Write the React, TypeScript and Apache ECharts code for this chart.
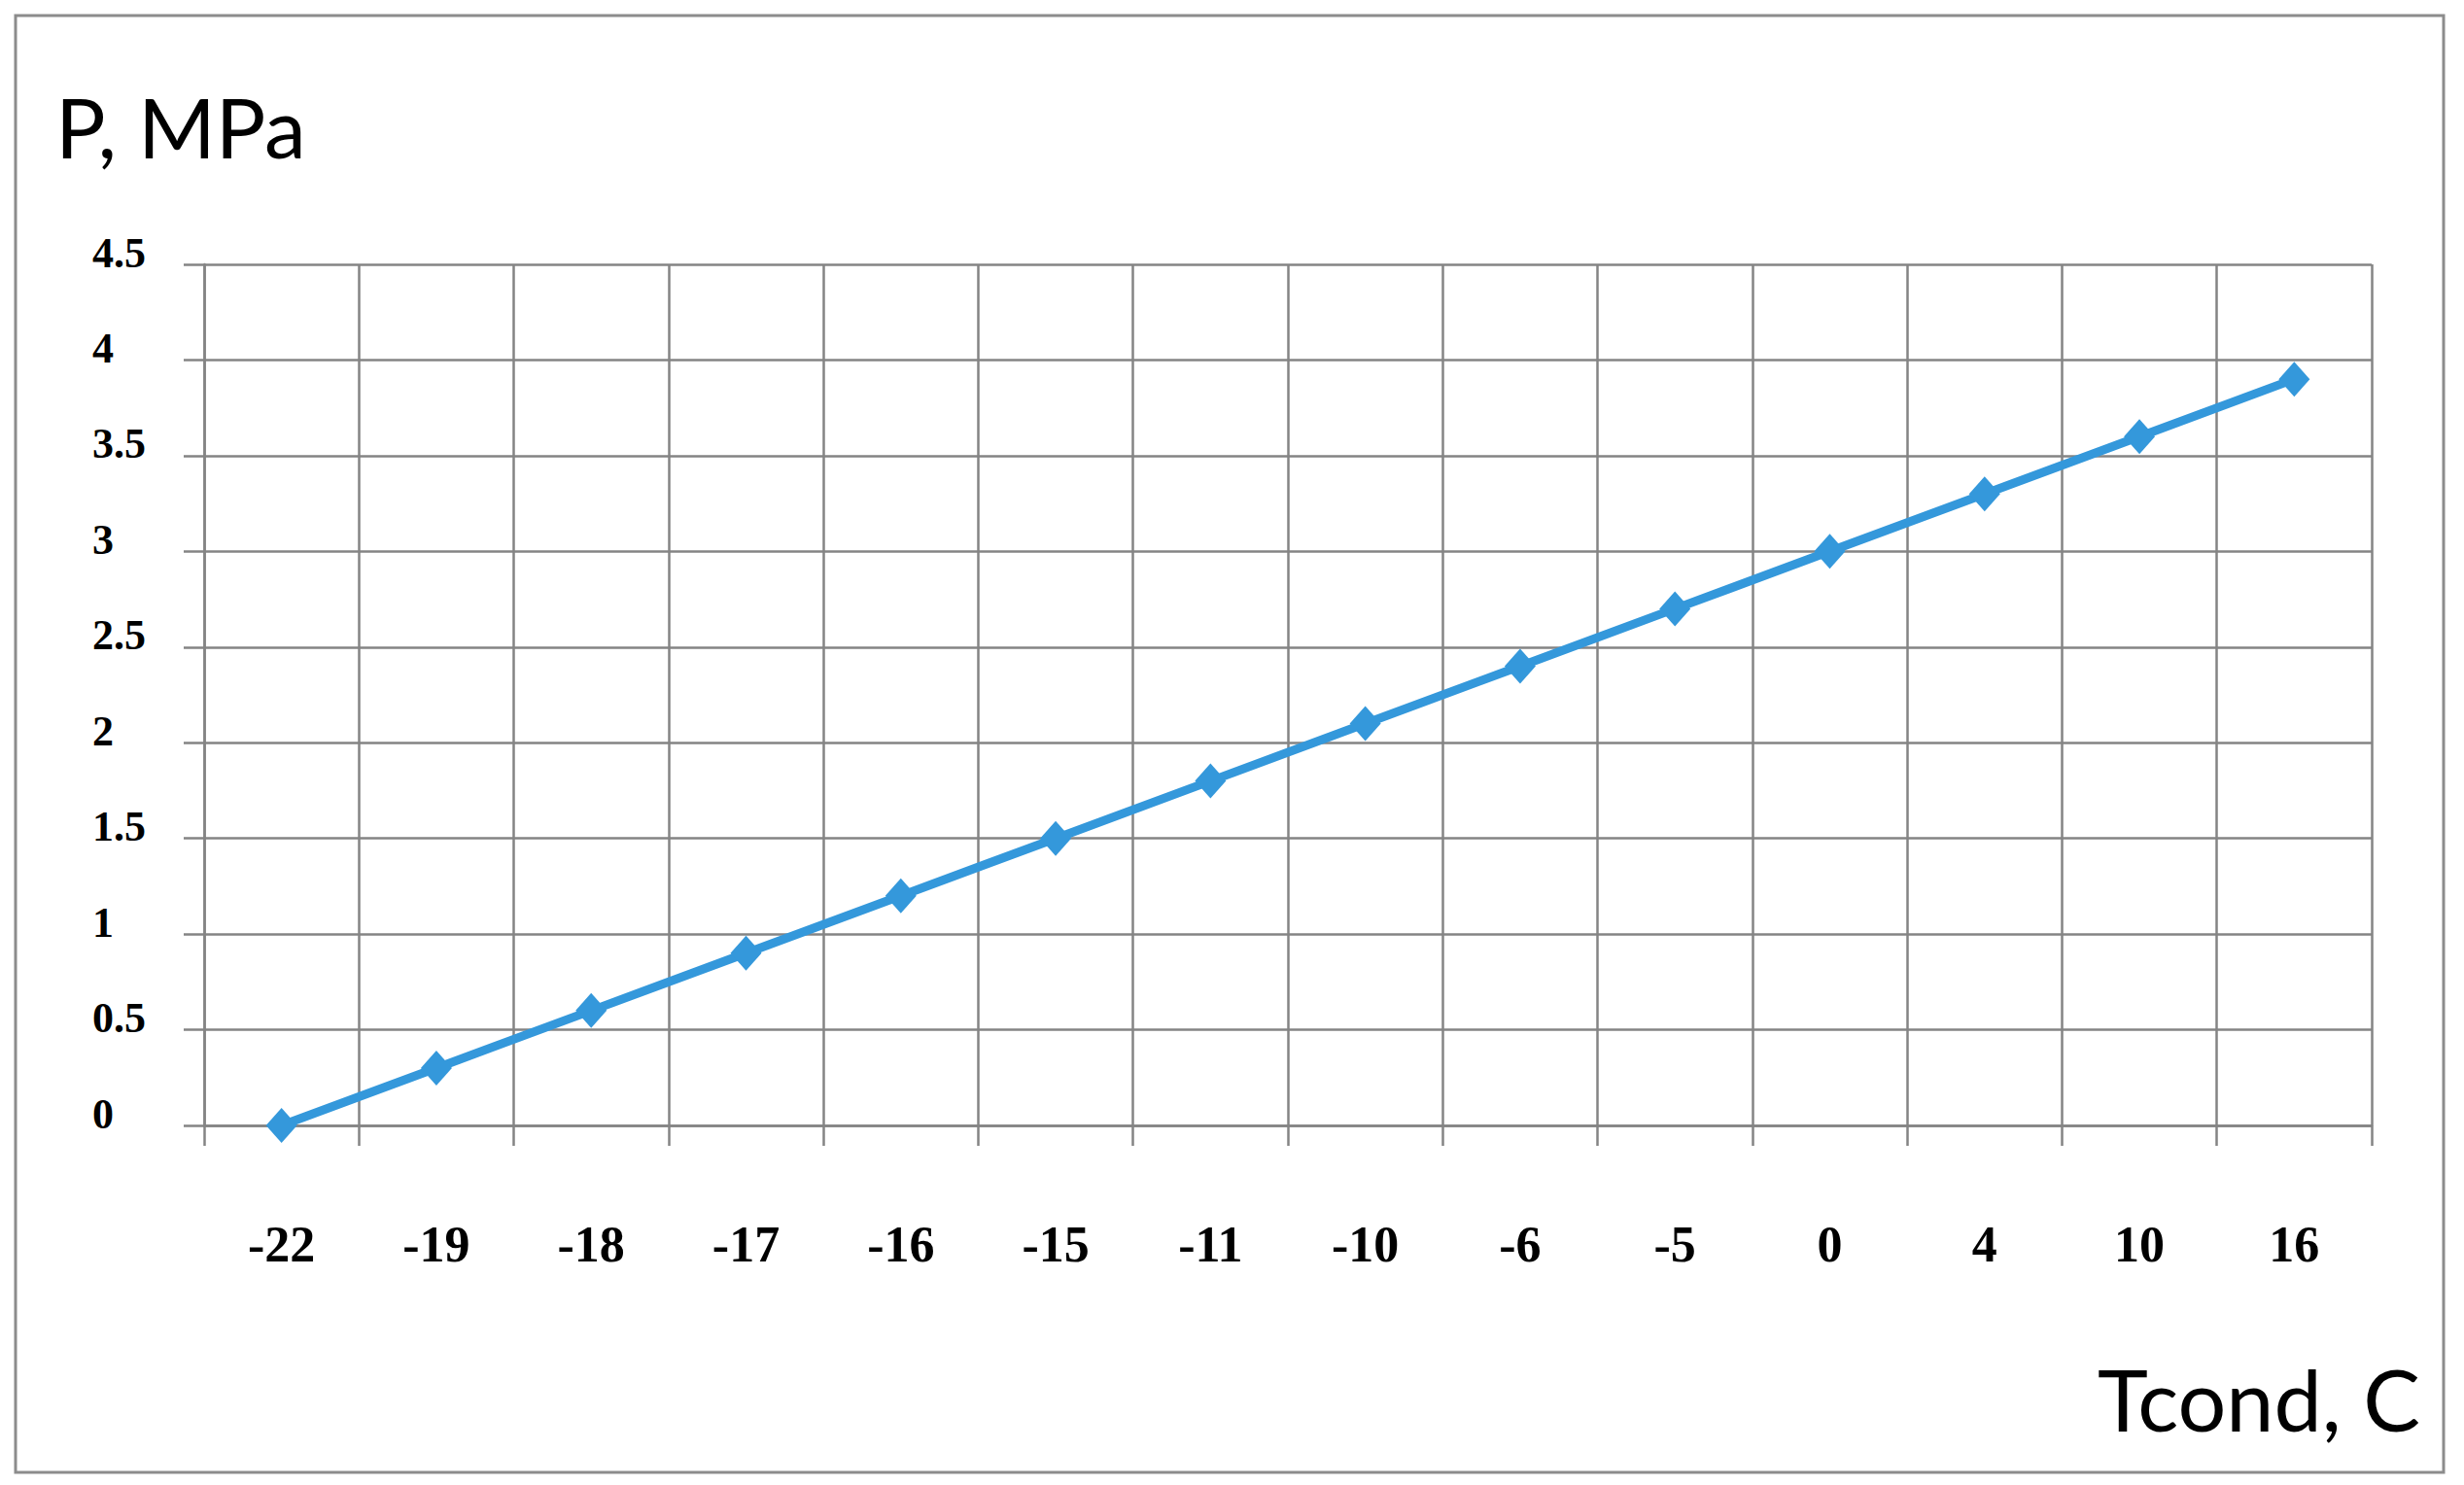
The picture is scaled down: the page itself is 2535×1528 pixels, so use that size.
import React, { useEffect, useRef } from "react";
import * as echarts from "echarts";

const categories = ["-22", "-19", "-18", "-17", "-16", "-15", "-11", "-10", "-6", "-5", "0", "4", "10", "16"];
const pressure = [0, 0.3, 0.6, 0.9, 1.2, 1.5, 1.8, 2.1, 2.4, 2.7, 3.0, 3.3, 3.6, 3.9];
const yMin = 0;
const yMax = 4.5;
const yStep = 0.5;
const yTitle = "P, MPa";
const xTitle = "Tcond, C";

export default function App() {
  const ref = useRef<HTMLDivElement>(null);
  useEffect(() => {
    document.body.style.margin = "0";
    const chart = echarts.init(ref.current!, null, { renderer: "svg" });
    const gray = "#848484";
    const blue = "#3498db";
    chart.setOption({
      animation: false,
      backgroundColor: "#ffffff",
      grid: { left: 210, right: 95, top: 272, bottom: 370, containLabel: false },
      graphic: [
        {
          type: "rect",
          shape: { x: 16, y: 16, width: 2498, height: 1499 },
          style: { fill: "none", stroke: "#8c8c8c", lineWidth: 3 },
          z: -1,
        },
        {
          type: "text",
          x: 57,
          y: 129,
          style: {
            text: yTitle,
            font: "86px Lato",
            fill: "#000",
            textAlign: "left",
            textVerticalAlign: "middle",
          },
        },
        {
          type: "text",
          x: 2490,
          y: 1439,
          style: {
            text: xTitle,
            font: "88px Lato",
            fill: "#000",
            textAlign: "right",
            textVerticalAlign: "middle",
          },
        },
      ],
      xAxis: {
        type: "category",
        data: categories,
        boundaryGap: true,
        axisLine: { show: true, lineStyle: { color: gray, width: 2.5 } },
        axisTick: { show: true, length: 21, interval: 0, lineStyle: { color: gray, width: 2.5 } },
        splitLine: { show: true, interval: 0, lineStyle: { color: gray, width: 2.5 } },
        axisLabel: {
          interval: 0,
          margin: 96,
          fontFamily: "Liberation Serif",
          fontWeight: "bold",
          fontSize: 52,
          color: "#000",
        },
      },
      yAxis: {
        type: "value",
        min: yMin,
        max: yMax,
        interval: yStep,
        axisLine: { show: true, lineStyle: { color: gray, width: 2.5 } },
        axisTick: { show: true, length: 21, lineStyle: { color: gray, width: 2.5 } },
        splitLine: { show: true, lineStyle: { color: gray, width: 2.5 } },
        axisLabel: {
          margin: 115,
          align: "left",
          verticalAlign: "bottom",
          lineHeight: 24,
          fontFamily: "Liberation Serif",
          fontWeight: "bold",
          fontSize: 44,
          color: "#000",
        },
      },
      series: [
        {
          type: "line",
          data: pressure,
          symbol: "diamond",
          symbolSize: [32, 36],
          itemStyle: { color: blue },
          lineStyle: { color: blue, width: 9 },
        },
      ],
    });
    return () => chart.dispose();
  }, []);
  return <div ref={ref} style={{ width: 2535, height: 1528, background: "#fff" }} />;
}
